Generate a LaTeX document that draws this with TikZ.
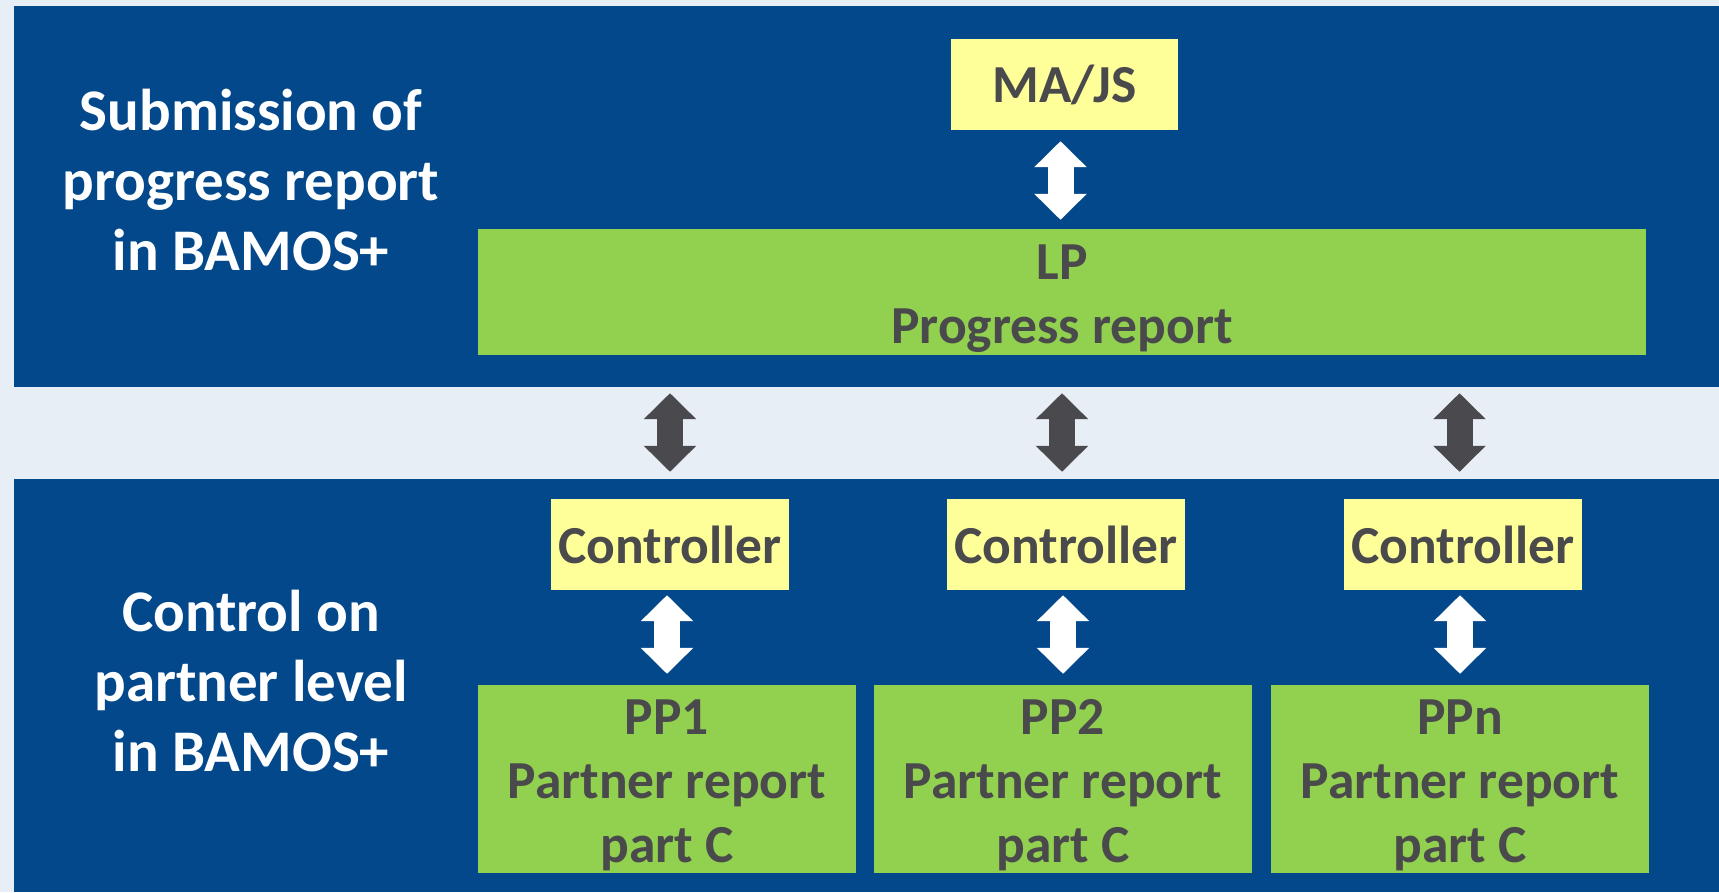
\documentclass[tikz,border=0pt]{standalone}
\usepackage{fontspec}
\setmainfont{Carlito}
\usetikzlibrary{arrows.meta}
\definecolor{bgc}{HTML}{E7EEF6}
\definecolor{bandc}{HTML}{03488B}
\definecolor{greenc}{HTML}{92D050}
\definecolor{yellowc}{HTML}{FFFF99}
\definecolor{textc}{HTML}{4A4A4D}
\definecolor{darkarr}{HTML}{4A494D}
\tikzset{
  ybox/.style={fill=yellowc, draw=none, inner sep=0pt, text=textc, font=\fontsize{53.5}{64}\selectfont\bfseries},
  gbox/.style={fill=greenc, draw=none, inner sep=0pt},
  gtext/.style={text=textc, align=center, inner sep=0pt, yshift=-6.5pt, font=\fontsize{53.5}{64}\selectfont\bfseries},
  sidelabel/.style={text=white, align=center, inner sep=0pt, font=\fontsize{59}{70}\selectfont\bfseries},
  dblarrow/.style={line width=26pt, {Triangle[width=51pt,length=26pt]}-{Triangle[width=51pt,length=26pt]}},
  whitearr/.style={dblarrow, draw=white},
  darkarrow/.style={dblarrow, draw=darkarr},
}
\begin{document}
\begin{tikzpicture}[x=1pt,y=-1pt]
\useasboundingbox (0,0) rectangle (1719,892);
\fill[bgc] (0,0) rectangle (1719,892);
\fill[bandc] (14,6) rectangle (1719,387);
\fill[bandc] (14,479) rectangle (1719,892);

\node[sidelabel] (top) at (251,180) {Submission of\\progress report\\in BAMOS+};
\node[sidelabel] (bot) at (251,681) {Control on\\partner level\\in BAMOS+};

\node[ybox, minimum width=227pt, minimum height=91pt] (majs) at (1064.5,84.5) {MA/JS};
\node[gbox, minimum width=1168pt, minimum height=126pt, label={[gtext]center:{LP\\Progress report}}] (lp) at (1062,292) {};

\node[ybox, minimum width=238pt, minimum height=91pt] (c1) at (670,544.5) {Controller};
\node[ybox, minimum width=238pt, minimum height=91pt] (c2) at (1066,544.5) {Controller};
\node[ybox, minimum width=238pt, minimum height=91pt] (c3) at (1463,544.5) {Controller};

\node[gbox, minimum width=378pt, minimum height=188pt, label={[gtext]center:{PP1\\Partner report\\part C}}] (p1) at (667,779) {};
\node[gbox, minimum width=378pt, minimum height=188pt, label={[gtext]center:{PP2\\Partner report\\part C}}] (p2) at (1063,779) {};
\node[gbox, minimum width=378pt, minimum height=188pt, label={[gtext]center:{PPn\\Partner report\\part C}}] (p3) at (1460,779) {};

\draw[whitearr, shorten <=11pt, shorten >=9pt] (majs.south -| 1060.5,0) -- (lp.north -| 1060.5,0);
\foreach \c/\p/\x in {c1/p1/667, c2/p2/1063, c3/p3/1460}{
  \draw[whitearr, shorten <=5pt, shorten >=11pt] (\c.south -| \x,0) -- (\p.north -| \x,0);
}
\foreach \c/\x in {c1/670, c2/1062, c3/1459.5}{
  \draw[darkarrow, shorten <=38pt, shorten >=27pt] (lp.south -| \x,0) -- (\c.north -| \x,0);
}
\end{tikzpicture}
\end{document}
